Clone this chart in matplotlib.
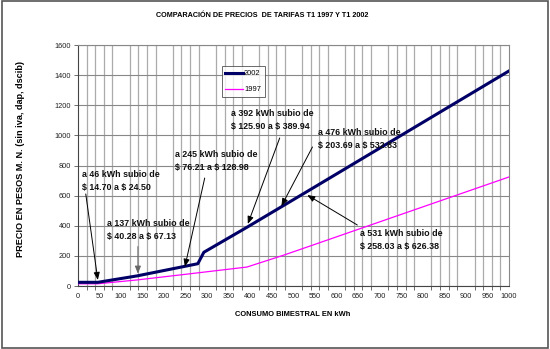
import matplotlib
matplotlib.use("Agg")
import matplotlib.pyplot as plt
from matplotlib.ticker import MultipleLocator
from matplotlib.patches import Rectangle

plt.rcParams['font.family'] = ['Liberation Sans', 'DejaVu Sans']

# Tarifa T1: precio bimestral (sin iva, dap, dscib) contra consumo
kwh_2002 = [0, 46, 137, 245, 278, 292, 392, 476, 531, 1000]
precio_2002 = [24.50, 24.50, 67.13, 128.98, 148, 224, 389.94, 532.83, 626.38, 1428]

kwh_1997 = [0, 46, 137, 245, 392, 476, 531, 1000]
precio_1997 = [14.70, 14.70, 40.28, 76.21, 125.90, 203.69, 258.03, 724]

# Notas: (texto, posición del texto, cola de la flecha, punta de la flecha)
notas = [
    ("a 46 kWh subio de\n\\$ 14.70 a \\$ 24.50", (9, 697), (18, 611), (46, 40)),
    ("a 137 kWh subio de\n\\$ 40.28 a \\$ 67.13", (67, 372), (139, 262), (139, 82)),
    ("a 245 kWh subio de\n\\$ 76.21 a \\$ 128.98", (225, 830), (294, 717), (248, 128)),
    ("a 392 kWh subio de\n\\$ 125.90 a \\$ 389.94", (354, 1105), (468, 983), (394, 412)),
    ("a 476 kWh subio de\n\\$ 203.69 a \\$ 532.83", (556, 976), (544, 923), (472, 531)),
    ("a 531 kWh subio de\n\\$ 258.03 a \\$ 626.38", (655, 305), (648, 405), (532, 604)),
]

fig = plt.figure(figsize=(5.5, 3.49), dpi=100)
fig.patches.append(Rectangle((0.003, 0.004), 0.993, 0.992, transform=fig.transFigure,
                             fill=False, edgecolor='#555555', linewidth=1.2))
ax = fig.add_axes([0.1418, 0.1805, 0.7837, 0.6905])

ax.set_xlim(0, 1000)
ax.set_ylim(0, 1600)

ax.xaxis.set_major_locator(MultipleLocator(50))
ax.xaxis.set_minor_locator(MultipleLocator(20))
ax.yaxis.set_major_locator(MultipleLocator(200))
ax.grid(which='minor', axis='x', color='#ababab', linewidth=0.9)
ax.grid(which='major', axis='y', color='#888888', linewidth=0.8)
ax.set_axisbelow(True)
ax.tick_params(axis='x', which='major', length=0, labelsize=5.3, pad=5, labelcolor='#222222')
ax.tick_params(axis='x', which='minor', length=3, width=0.6, color='#555555')
ax.tick_params(axis='y', which='major', length=3, width=0.6, labelsize=5.3, pad=2,
               labelcolor='#222222', color='#555555')

for s in ['top', 'right']:
    ax.spines[s].set_color('#888888')
    ax.spines[s].set_linewidth(0.8)
for s in ['left', 'bottom']:
    ax.spines[s].set_color('#444444')
    ax.spines[s].set_linewidth(0.8)

ax.plot(kwh_1997, precio_1997, color='#ff00ff', linewidth=0.9, label='1997', zorder=3)
ax.plot(kwh_2002, precio_2002, color='#000066', linewidth=2.2, label='2002', zorder=4)

for texto, pos_txt, cola, punta in notas:
    ax.text(pos_txt[0], pos_txt[1], texto, fontsize=6.4, fontweight='bold',
            ha='left', va='center', linespacing=1.55, color='#111111', zorder=6)
    col = '#666666' if punta[0] == 139 else 'black'
    ax.annotate('', xy=punta, xytext=cola,
                arrowprops=dict(arrowstyle='-|>,head_length=0.45,head_width=0.18',
                                color=col, linewidth=0.7, shrinkA=0, shrinkB=0),
                zorder=5)

handles, labels = ax.get_legend_handles_labels()
leg = ax.legend(handles[::-1], labels[::-1], loc='upper left', bbox_to_anchor=(0.333, 0.912),
                fontsize=5.4, frameon=True, fancybox=False, handlelength=2.3,
                handletextpad=0.2, borderpad=0.5, labelspacing=1.2, borderaxespad=0)
leg.get_frame().set_edgecolor('#444444')
leg.get_frame().set_linewidth(0.7)

fig.text(0.476, 0.955, "COMPARACIÓN DE PRECIOS  DE TARIFAS T1 1997 Y T1 2002",
         ha='center', va='center', fontsize=5.2, fontweight='bold')
fig.text(0.533, 0.100, "CONSUMO BIMESTRAL EN kWh", ha='center', va='center',
         fontsize=5.4, fontweight='bold')
fig.text(0.038, 0.545, "PRECIO EN PESOS M. N. (sin iva, dap, dscib)", ha='center',
         va='center', rotation=90, fontsize=6.6, fontweight='bold')

fig.savefig('out.png', dpi=100, facecolor='white')
